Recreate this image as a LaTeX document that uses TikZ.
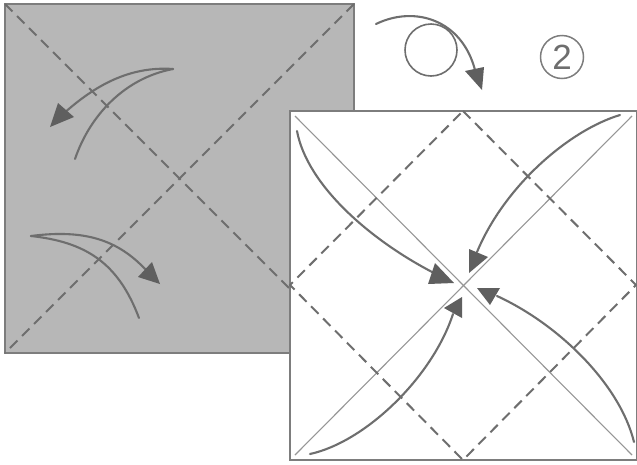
\documentclass[tikz,border=0pt]{standalone}
\usepackage{fontspec}
\setmainfont{Liberation Sans}
\usepackage{xcolor}
\definecolor{papergray}{RGB}{183,183,183}
\definecolor{edgegray}{RGB}{125,125,125}
\definecolor{foldgray}{RGB}{110,110,110}
\definecolor{headgray}{RGB}{95,95,95}
\definecolor{thingray}{RGB}{150,150,150}
\newcommand{\foldhead}[3]{\fill[headgray] #1 -- #2 -- #3 -- cycle;}
\tikzset{
  edgeline/.style={draw=edgegray,line width=2pt},
  creaseline/.style={foldgray,line width=2pt,dash pattern=on 10.5pt off 6.5pt},
  thinline/.style={thingray,line width=1.1pt},
  foldline/.style={foldgray,line width=2.1pt,line cap=round}
}
\begin{document}
\begin{tikzpicture}[x=1pt,y=-1pt]
\useasboundingbox (0,0) rectangle (637,464);
% ---- gray sheet ----
\draw[edgeline,fill=papergray] (5,4) rectangle (354,353);
\draw[creaseline] (5,4) -- (354,353);
\draw[creaseline] (354,4) -- (5,353);
% arrow up left
\draw[foldline] (75,159) .. controls (90,115) and (125,78) .. (173,69);
\draw[foldline] (173,69) .. controls (130,66) and (95,85) .. (62,115);
\foldhead{(50,127)}{(58,103)}{(74,117)}
% arrow down right
\draw[foldline] (139,318) .. controls (118,262) and (85,242) .. (31,236);
\draw[foldline] (31,236) .. controls (85,229) and (118,240) .. (146,270);
\foldhead{(160,284)}{(152,262)}{(138,277)}
% ---- turn over ----
\draw[foldline,line width=1.6pt] (431,50) circle (26pt);
\draw[foldline] (376,24) .. controls (415,5) and (462,20) .. (475,70);
\foldhead{(482,90)}{(465,71)}{(484,67)}
\node[circle,draw=edgegray,line width=1.5pt,minimum size=43pt,inner sep=0pt,text=foldgray,font=\fontsize{35}{35}\selectfont] (stepno) at (562,57) {2};
% ---- white sheet ----
\draw[edgeline,fill=white] (290,111) rectangle (637,460);
\draw[thinline] (295,116) -- (632,455);
\draw[thinline] (295,455) -- (632,116);
\draw[creaseline] (463,111) -- (636,285) -- (463,460) -- (290,285) -- cycle;
% arrow from top left
\draw[foldline] (297,131) .. controls (307,185) and (370,240) .. (434,273);
\foldhead{(454,283)}{(435,263)}{(428,284)}
% arrow from top right
\draw[foldline] (620,115) .. controls (570,130) and (505,185) .. (477,252);
\foldhead{(469,273)}{(469,249)}{(488,257)}
% arrow from bottom right
\draw[foldline] (634,442) .. controls (620,385) and (560,325) .. (497,296);
\foldhead{(477,288)}{(500,288)}{(490,305)}
% arrow from bottom left
\draw[foldline] (310,454) .. controls (365,442) and (432,378) .. (453,314);
\foldhead{(462,297)}{(444,308)}{(462,318)}
\end{tikzpicture}
\end{document}
